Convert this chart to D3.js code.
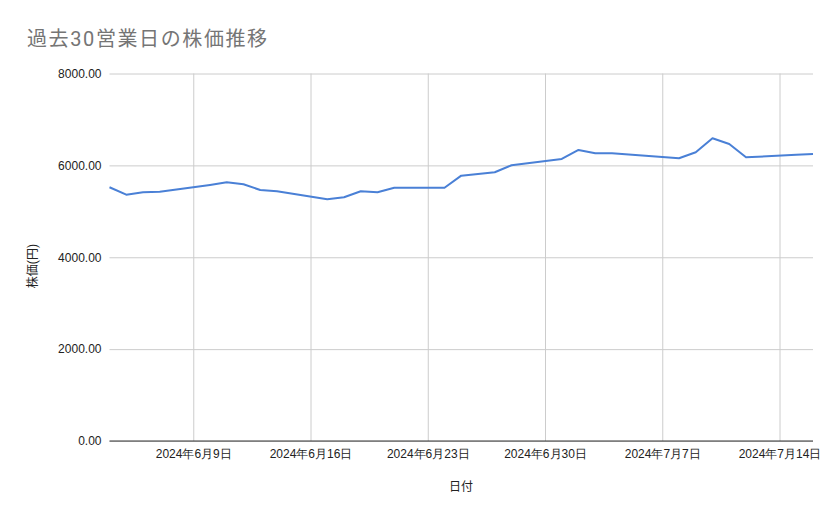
<!DOCTYPE html>
<html>
<head>
<meta charset="utf-8">
<script src="https://cdn.jsdelivr.net/npm/d3@7"></script>
<style>
  body { margin: 0; background: #fff; }
  svg { display: block; font-family: Roboto, 'Noto Sans CJK JP', sans-serif; }
</style>
</head>
<body>
<svg id="chart" width="839" height="519"></svg>
<script>
const dates = [
  '2024-06-04', '2024-06-05', '2024-06-06', '2024-06-07',
  '2024-06-10', '2024-06-11', '2024-06-12', '2024-06-13', '2024-06-14',
  '2024-06-17', '2024-06-18', '2024-06-19', '2024-06-20', '2024-06-21',
  '2024-06-24', '2024-06-25', '2024-06-26', '2024-06-27', '2024-06-28',
  '2024-07-01', '2024-07-02', '2024-07-03', '2024-07-04', '2024-07-05',
  '2024-07-08', '2024-07-09', '2024-07-10', '2024-07-11', '2024-07-12',
  '2024-07-15', '2024-07-16'
]
const prices = [
  5523, 5362, 5414, 5427,
  5575, 5632, 5588, 5464, 5436,
  5262, 5305, 5436, 5414, 5514,
  5514, 5776, 5812, 5850, 6002,
  6139, 6335, 6263, 6263, 6237,
  6154, 6285, 6590, 6466, 6176,
  6231, 6248
]
const xTicks = ['2024-06-09', '2024-06-16', '2024-06-23', '2024-06-30', '2024-07-07', '2024-07-14']
const yTicks = [0, 2000, 4000, 6000, 8000]
const xDomain = ['2024-06-04', '2024-07-16']

const parse = d3.timeParse('%Y-%m-%d')
const data = dates.map((d, i) => ({ date: parse(d), value: prices[i] }))

const margins = { top: 73.5, right: 26, bottom: 78, left: 109.5 }
const svg = d3.select('#chart')
const width = 839 - margins.left - margins.right
const height = 519 - margins.top - margins.bottom

const x = d3.scaleTime().domain(xDomain.map(parse)).range([0, width])
const y = d3.scaleLinear().domain([0, 8000]).range([height, 0])

svg.append('text')
  .attr('x', 27)
  .attr('y', 46)
  .attr('font-size', 20)
  .attr('letter-spacing', 1.6)
  .attr('fill', '#757575')
  .text('過去30営業日の株価推移')

const g = svg.append('g')
  .attr('transform', `translate(${margins.left}, ${margins.top})`)

// horizontal grid + y labels
const yAxis = g.append('g')
  .attr('class', 'axis axis--y')
  .call(d3.axisLeft(y).tickValues(yTicks).tickSize(-width).tickFormat(d3.format('.2f')))
yAxis.select('.domain').remove()
yAxis.selectAll('line').attr('stroke', '#cccccc')
yAxis.selectAll('text')
  .attr('x', -8)
  .attr('font-size', 12)
  .attr('fill', '#222')

// vertical grid + x labels
const xAxis = g.append('g')
  .attr('class', 'axis axis--x')
  .attr('transform', `translate(0, ${height})`)
  .call(d3.axisBottom(x)
    .tickValues(xTicks.map(parse))
    .tickSize(-height)
    .tickFormat(d3.timeFormat('%Y年%-m月%-d日')))
xAxis.select('.domain').remove()
xAxis.selectAll('line').attr('stroke', '#cccccc')
xAxis.selectAll('text')
  .attr('y', 13)
  .attr('dy', '0.32em')
  .attr('font-size', 12)
  .attr('fill', '#222')

// baseline
g.append('line')
  .attr('x1', 0)
  .attr('x2', width)
  .attr('y1', y(0))
  .attr('y2', y(0))
  .attr('stroke', '#333')
  .attr('stroke-width', 1)

g.append('path')
  .datum(data)
  .attr('fill', 'none')
  .attr('stroke', '#4a80d6')
  .attr('stroke-width', 2)
  .attr('stroke-linejoin', 'round')
  .attr('d', d3.line().x((d) => x(d.date)).y((d) => y(d.value)))

svg.append('text')
  .attr('x', 461)
  .attr('y', 487)
  .attr('dy', '0.35em')
  .attr('text-anchor', 'middle')
  .attr('font-size', 12)
  .attr('fill', '#222')
  .text('日付')

svg.append('text')
  .attr('transform', 'translate(33, 266) rotate(-90)')
  .attr('dy', '0.35em')
  .attr('text-anchor', 'middle')
  .attr('font-size', 12)
  .attr('fill', '#222')
  .text('株価(円)')
</script>
</body>
</html>
